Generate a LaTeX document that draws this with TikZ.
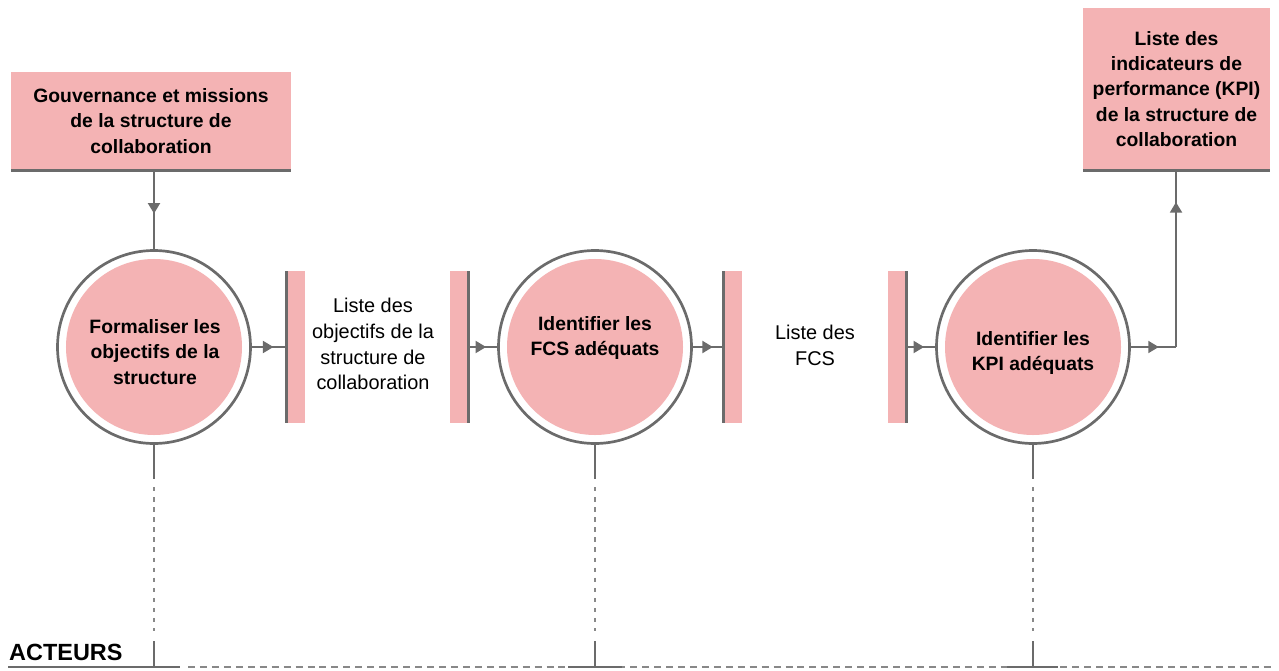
\documentclass[tikz,border=0pt]{standalone}
\usepackage{fontspec}
\setmainfont{Liberation Sans}
\usetikzlibrary{arrows.meta,decorations.markings}
\definecolor{pk}{HTML}{F4B3B4}
\definecolor{gr}{HTML}{6B6B6B}
\definecolor{grd}{HTML}{888888}
\tikzset{
  ln/.style={draw=gr,line width=2.5pt},
  dln/.style={draw=grd,line width=2pt,dash pattern=on 3.8pt off 4.8pt},
  hdln/.style={draw=grd,line width=2pt,dash pattern=on 6pt off 4.2pt},
  midarrow/.style={postaction={decorate},decoration={markings,mark=at position #1 with {\arrow{Triangle[length=9pt,width=10pt]}}}},
  outerc/.style={circle,draw=gr,line width=2.3pt,fill=white,minimum size=5.79cm,inner sep=0pt},
  innerc/.style={circle,fill=pk,minimum size=5.28cm,inner sep=0pt},
  btext/.style={align=center,font=\fontsize{16.5}{21.5}\selectfont\bfseries,inner sep=0pt},
  rtext/.style={align=center,font=\fontsize{17}{22}\selectfont,inner sep=0pt},
  topbox/.style={rectangle,fill=pk,inner sep=0pt,align=center,font=\fontsize{16.5}{21.5}\selectfont\bfseries},
  bar/.style={rectangle,fill=pk,minimum width=0.54cm,minimum height=4.53cm,inner sep=0pt},
}
\begin{document}
\begin{tikzpicture}[x=0.03cm,y=-0.03cm]
\useasboundingbox (0,0) rectangle (1279,671);
% top boxes
\node[topbox,minimum width=8.4cm,minimum height=2.94cm] (b1) at (151,121) {Gouvernance et missions\\de la structure de\\collaboration};
\draw[ln] (b1.south west) -- (b1.south east);
\node[topbox,minimum width=5.61cm,minimum height=4.86cm] (b2) at (1176.5,89) {Liste des\\indicateurs de\\performance (KPI)\\de la structure de\\collaboration};
\draw[ln] (b2.south west) -- (b2.south east);
% circles
\node[outerc] (c1) at (154,347) {};
\node[innerc] (i1) at (c1) {};
\node[outerc] (c2) at (595,347) {};
\node[innerc] (i2) at (c2) {};
\node[outerc] (c3) at (1033,347) {};
\node[innerc] (i3) at (c3) {};
\node[btext] (t1) at (155,352) {Formaliser les\\objectifs de la\\structure};
\node[btext] (t2) at (595,338) {Identifier les\\FCS adéquats};
\node[btext] (t3) at (1033,353) {Identifier les\\KPI adéquats};
% bars
\node[bar] (r1) at (296,347) {};
\draw[ln] (r1.north west) -- (r1.south west);
\node[bar] (r2) at (459,347) {};
\draw[ln] (r2.north east) -- (r2.south east);
\node[bar] (r3) at (733,347) {};
\draw[ln] (r3.north west) -- (r3.south west);
\node[bar] (r4) at (897,347) {};
\draw[ln] (r4.north east) -- (r4.south east);
\node[rtext] (l1) at (373,344) {Liste des\\objectifs de la\\structure de\\collaboration};
\node[rtext] (l2) at (815,345) {Liste des\\FCS};
% connectors
\draw[ln,midarrow=0.55] (b1.south -| c1.north) -- (c1.north);
\draw[ln,midarrow=0.62] (c1.east) -- (c1.east -| r1.west);
\draw[ln,midarrow=0.62] (r2.east) -- (r2.east -| c2.west);
\draw[ln,midarrow=0.65] (c2.east) -- (c2.east -| r3.west);
\draw[ln,midarrow=0.62] (r4.east) -- (r4.east -| c3.west);
\coordinate (k) at (1176,347);
\draw[ln,midarrow=0.62] (c3.east) -- (k);
\draw[ln,midarrow=0.82] (k) -- (k |- b2.south);
% actor lines
\foreach \n/\x in {1/154,2/595,3/1033}{
  \coordinate (s\n) at (\x,479);
  \coordinate (d\n) at (\x,487);
  \coordinate (e\n) at (\x,631);
  \coordinate (f\n) at (\x,641);
  \coordinate (g\n) at (\x,667);
  \draw[ln] (c\n.south) -- (s\n);
  \draw[dln] (d\n) -- (e\n);
  \draw[ln] (f\n) -- (g\n);
}
\coordinate (h0) at (8,667);
\coordinate (h1) at (180,667);
\coordinate (h2) at (188,667);
\coordinate (h3) at (1272,667);
\draw[hdln] (h2) -- (h3);
\draw[ln] (h0) -- (h1);
\draw[ln] (568,667) coordinate (m1) -- (622,667) coordinate (m2);
\draw[ln] (1007,667) coordinate (n1) -- (1058,667) coordinate (n2);
\node[anchor=base west,inner sep=0pt,font=\fontsize{20}{24}\selectfont\bfseries] (act) at (9,660) {ACTEURS};
\end{tikzpicture}
\end{document}
